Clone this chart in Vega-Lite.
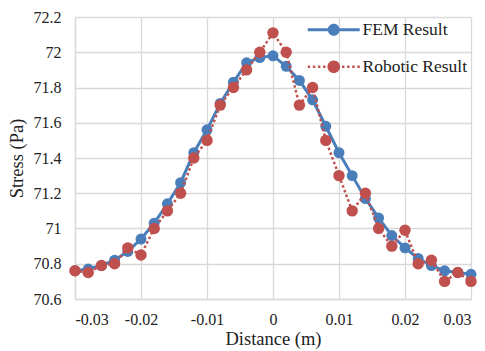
{
  "$schema": "https://vega.github.io/schema/vega-lite/v6.json",
  "width": 396,
  "height": 282,
  "autosize": {"type": "none"},
  "padding": {"left": 75, "top": 17, "right": 14, "bottom": 52},
  "background": "white",
  "config": {
    "font": "Liberation Serif",
    "view": {"stroke": null},
    "axis": {
      "labelFont": "Liberation Serif",
      "titleFont": "Liberation Serif",
      "labelFontSize": 16,
      "titleFontSize": 18.5,
      "labelColor": "#222222",
      "titleColor": "#222222",
      "titleFontWeight": "normal",
      "gridColor": "#D9D9D9",
      "gridWidth": 1.3,
      "domainColor": "#D9D9D9",
      "domainWidth": 1.3,
      "ticks": false
    }
  },
  "data": {
    "values": [
      {"x": -0.03, "stress": 70.76, "series": "FEM Result"},
      {"x": -0.028, "stress": 70.77, "series": "FEM Result"},
      {"x": -0.026, "stress": 70.79, "series": "FEM Result"},
      {"x": -0.024, "stress": 70.82, "series": "FEM Result"},
      {"x": -0.022, "stress": 70.87, "series": "FEM Result"},
      {"x": -0.02, "stress": 70.94, "series": "FEM Result"},
      {"x": -0.018, "stress": 71.03, "series": "FEM Result"},
      {"x": -0.016, "stress": 71.14, "series": "FEM Result"},
      {"x": -0.014, "stress": 71.26, "series": "FEM Result"},
      {"x": -0.012, "stress": 71.43, "series": "FEM Result"},
      {"x": -0.01, "stress": 71.56, "series": "FEM Result"},
      {"x": -0.008, "stress": 71.71, "series": "FEM Result"},
      {"x": -0.006, "stress": 71.83, "series": "FEM Result"},
      {"x": -0.004, "stress": 71.94, "series": "FEM Result"},
      {"x": -0.002, "stress": 71.97, "series": "FEM Result"},
      {"x": 0, "stress": 71.98, "series": "FEM Result"},
      {"x": 0.002, "stress": 71.92, "series": "FEM Result"},
      {"x": 0.004, "stress": 71.84, "series": "FEM Result"},
      {"x": 0.006, "stress": 71.73, "series": "FEM Result"},
      {"x": 0.008, "stress": 71.58, "series": "FEM Result"},
      {"x": 0.01, "stress": 71.43, "series": "FEM Result"},
      {"x": 0.012, "stress": 71.30, "series": "FEM Result"},
      {"x": 0.014, "stress": 71.17, "series": "FEM Result"},
      {"x": 0.016, "stress": 71.06, "series": "FEM Result"},
      {"x": 0.018, "stress": 70.96, "series": "FEM Result"},
      {"x": 0.02, "stress": 70.89, "series": "FEM Result"},
      {"x": 0.022, "stress": 70.83, "series": "FEM Result"},
      {"x": 0.024, "stress": 70.79, "series": "FEM Result"},
      {"x": 0.026, "stress": 70.76, "series": "FEM Result"},
      {"x": 0.028, "stress": 70.75, "series": "FEM Result"},
      {"x": 0.03, "stress": 70.74, "series": "FEM Result"},
      {"x": -0.03, "stress": 70.76, "series": "Robotic Result"},
      {"x": -0.028, "stress": 70.75, "series": "Robotic Result"},
      {"x": -0.026, "stress": 70.79, "series": "Robotic Result"},
      {"x": -0.024, "stress": 70.80, "series": "Robotic Result"},
      {"x": -0.022, "stress": 70.89, "series": "Robotic Result"},
      {"x": -0.02, "stress": 70.85, "series": "Robotic Result"},
      {"x": -0.018, "stress": 71.0, "series": "Robotic Result"},
      {"x": -0.016, "stress": 71.10, "series": "Robotic Result"},
      {"x": -0.014, "stress": 71.20, "series": "Robotic Result"},
      {"x": -0.012, "stress": 71.40, "series": "Robotic Result"},
      {"x": -0.01, "stress": 71.50, "series": "Robotic Result"},
      {"x": -0.008, "stress": 71.70, "series": "Robotic Result"},
      {"x": -0.006, "stress": 71.80, "series": "Robotic Result"},
      {"x": -0.004, "stress": 71.90, "series": "Robotic Result"},
      {"x": -0.002, "stress": 72.0, "series": "Robotic Result"},
      {"x": 0, "stress": 72.11, "series": "Robotic Result"},
      {"x": 0.002, "stress": 72.0, "series": "Robotic Result"},
      {"x": 0.004, "stress": 71.70, "series": "Robotic Result"},
      {"x": 0.006, "stress": 71.80, "series": "Robotic Result"},
      {"x": 0.008, "stress": 71.50, "series": "Robotic Result"},
      {"x": 0.01, "stress": 71.30, "series": "Robotic Result"},
      {"x": 0.012, "stress": 71.10, "series": "Robotic Result"},
      {"x": 0.014, "stress": 71.20, "series": "Robotic Result"},
      {"x": 0.016, "stress": 71.0, "series": "Robotic Result"},
      {"x": 0.018, "stress": 70.90, "series": "Robotic Result"},
      {"x": 0.02, "stress": 70.99, "series": "Robotic Result"},
      {"x": 0.022, "stress": 70.80, "series": "Robotic Result"},
      {"x": 0.024, "stress": 70.82, "series": "Robotic Result"},
      {"x": 0.026, "stress": 70.70, "series": "Robotic Result"},
      {"x": 0.028, "stress": 70.75, "series": "Robotic Result"},
      {"x": 0.03, "stress": 70.70, "series": "Robotic Result"}
    ]
  },
  "encoding": {
    "x": {
      "field": "x", "type": "quantitative",
      "scale": {"domain": [-0.03, 0.03], "nice": false, "zero": false},
      "axis": {
        "title": "Distance (m)",
        "values": [-0.03, -0.02, -0.01, 0, 0.01, 0.02, 0.03],
        "format": "~g",
        "labelExpr": "replace(datum.label, '\u2212', '-')",
        "labelPadding": 12,
        "titlePadding": 2
      }
    },
    "y": {
      "field": "stress", "type": "quantitative",
      "scale": {"domain": [70.6, 72.2], "nice": false, "zero": false},
      "axis": {
        "title": "Stress (Pa)",
        "values": [70.6, 70.8, 71.0, 71.2, 71.4, 71.6, 71.8, 72.0, 72.2],
        "format": "~g",
        "labelPadding": 14,
        "titlePadding": 7
      }
    },
    "color": {
      "field": "series", "type": "nominal",
      "scale": {"domain": ["FEM Result", "Robotic Result"], "range": ["#4A7EBB", "#C0504D"]},
      "legend": {
        "title": null,
        "orient": "none",
        "legendX": 250,
        "legendY": 4,
        "padding": 0,
        "symbolSize": 144,
        "labelOffset": 20,
        "labelFont": "Liberation Serif",
        "labelFontSize": 17.5,
        "labelColor": "#222222",
        "rowPadding": 18,
        "encode": {
          "symbols": {
            "update": {
              "shape": {"signal": "datum.value == 'FEM Result' ? 'M-4.33,-0.25 L-1,-0.25 L-1,0.25 L-4.33,0.25 Z M1,-0.25 L4.33,-0.25 L4.33,0.25 L1,0.25 Z M-1,0 A1,1 0 1,1 1,0 A1,1 0 1,1 -1,0 Z' : 'M-4.33,-0.2 L-3.93,-0.2 L-3.93,0.2 L-4.33,0.2 Z M-3.48,-0.2 L-3.08,-0.2 L-3.08,0.2 L-3.48,0.2 Z M-2.63,-0.2 L-2.23,-0.2 L-2.23,0.2 L-2.63,0.2 Z M-1.78,-0.2 L-1.38,-0.2 L-1.38,0.2 L-1.78,0.2 Z M1.38,-0.2 L1.78,-0.2 L1.78,0.2 L1.38,0.2 Z M2.23,-0.2 L2.63,-0.2 L2.63,0.2 L2.23,0.2 Z M3.08,-0.2 L3.48,-0.2 L3.48,0.2 L3.08,0.2 Z M3.93,-0.2 L4.33,-0.2 L4.33,0.2 L3.93,0.2 Z M-1.05,0 A1.05,1.05 0 1,1 1.05,0 A1.05,1.05 0 1,1 -1.05,0 Z'"},
              "fill": {"signal": "datum.value == 'FEM Result' ? '#4A7EBB' : '#C0504D'"},
              "fillOpacity": {"value": 1},
              "opacity": {"value": 1},
              "strokeWidth": {"value": 0},
              "stroke": {"value": "transparent"}
            }
          }
        }
      }
    }
  },
  "layer": [
    {
      "transform": [{"filter": "datum.series == 'FEM Result'"}],
      "mark": {"type": "line", "strokeWidth": 3}
    },
    {
      "transform": [{"filter": "datum.series == 'FEM Result'"}],
      "mark": {"type": "point", "shape": "circle", "filled": true, "opacity": 1, "size": 120}
    },
    {
      "transform": [{"filter": "datum.series == 'Robotic Result'"}],
      "mark": {"type": "line", "strokeWidth": 2.5, "strokeDash": [2.5, 2.5]}
    },
    {
      "transform": [{"filter": "datum.series == 'Robotic Result'"}],
      "mark": {"type": "point", "shape": "circle", "filled": true, "opacity": 1, "size": 130}
    }
  ]
}
